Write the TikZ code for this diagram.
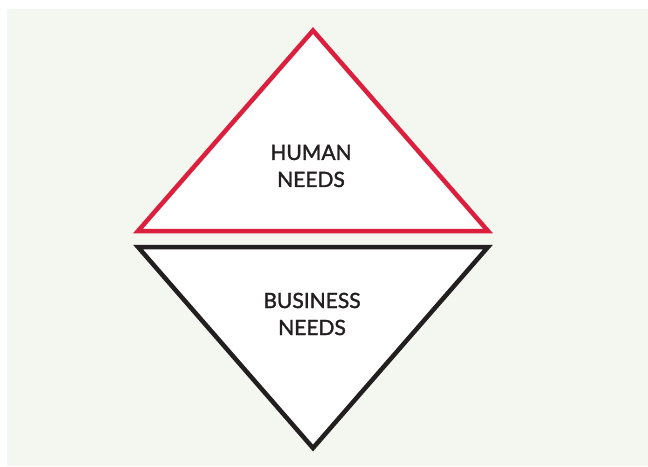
\documentclass[tikz,border=0pt]{standalone}
\usepackage{fontspec}
\setmainfont{Lato}
\newfontfamily\lblfont[FakeBold=1.6]{Lato}
\definecolor{bgc}{HTML}{F3F7F0}
\definecolor{redc}{HTML}{DC1F3D}
\definecolor{darkc}{HTML}{231F20}
\begin{document}
\begin{tikzpicture}[x=1pt,y=-1pt,
  tri/.style={line width=4.5pt, line join=miter, fill=white},
  lbl/.style={align=center, text=darkc, font=\lblfont\fontsize{21}{27}\selectfont, inner sep=0pt}]
\useasboundingbox (0,0) rectangle (648,466);
\fill[bgc] (7,9) rectangle (648,466);
\draw[tri, draw=redc] (313,30.5) -- (488,231) -- (138,231) -- cycle;
\draw[tri, draw=darkc] (138,247) -- (488,247) -- (313,448) -- cycle;
\node[lbl] (human) at (311,166) {HUMAN\\NEEDS};
\node[lbl] (business) at (312,314) {BUSINESS\\NEEDS};
\end{tikzpicture}
\end{document}
